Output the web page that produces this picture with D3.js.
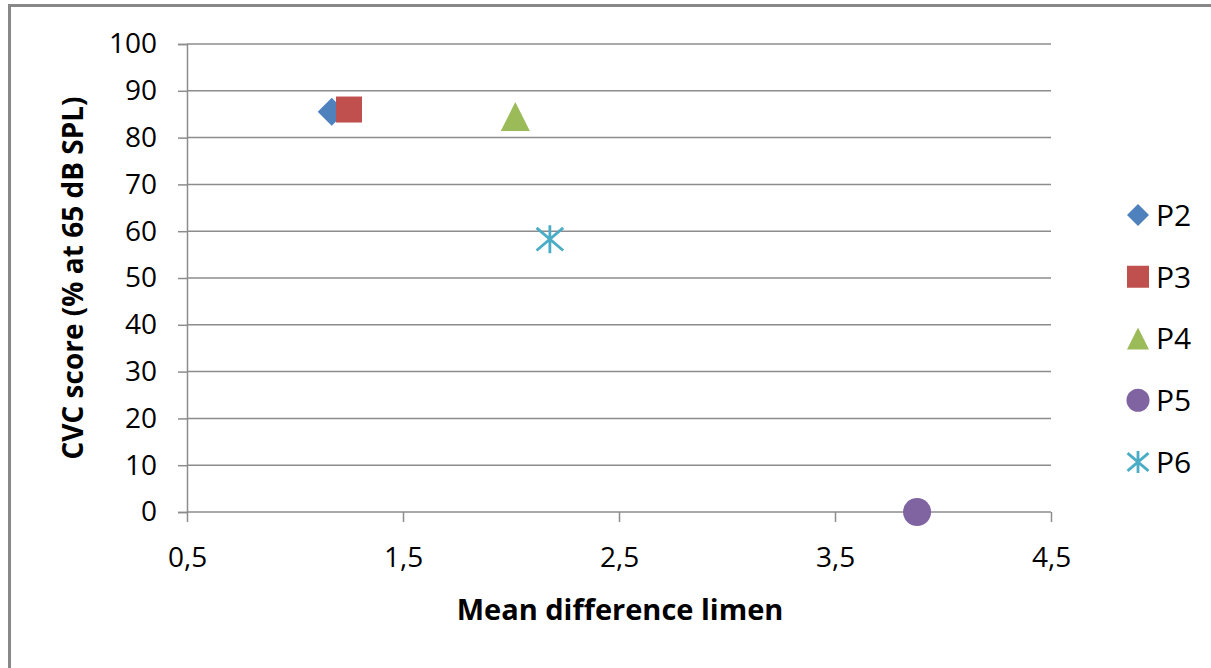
<!DOCTYPE html>
<html>
<head>
<meta charset="utf-8">
<script src="https://cdn.jsdelivr.net/npm/d3@7/dist/d3.min.js"></script>
<style>
  html, body { margin: 0; padding: 0; background: #fff; }
  svg { display: block; }
  text { font-family: "Open Sans", "Noto Sans", sans-serif; fill: #000; }
</style>
</head>
<body>
<svg id="chart" width="1211" height="668"></svg>
<script>
// ---- data ----
const seriesNames = ["P2", "P3", "P4", "P5", "P6"];
const xValues = [1.17, 1.25, 2.02, 3.88, 2.18];
const yValues = [85.5, 86, 84.5, 0, 58.3];
const seriesColors = ["#4F81BD", "#C0504D", "#9BBB59", "#8064A2", "#4BACC6"];
const seriesMarkers = ["diamond", "square", "triangle", "circle", "star"];
const xTicks = [0.5, 1.5, 2.5, 3.5, 4.5];
const xTickLabels = ["0,5", "1,5", "2,5", "3,5", "4,5"];
const yTicks = [0, 10, 20, 30, 40, 50, 60, 70, 80, 90, 100];
const xTitle = "Mean difference limen";
const yTitle = "CVC score (% at 65 dB SPL)";

(function () {
const svg = d3.select("#chart");
const W = 1211, H = 668;

// outer border (left & top visible)
svg.append("path")
  .attr("d", `M9.5,${H + 5} L9.5,5.5 L${W + 5},5.5`)
  .attr("fill", "none").attr("stroke", "#888").attr("stroke-width", 3);

const pLeft = 187, pRight = 1051, pTop = 44, pBottom = 512;
const x = d3.scaleLinear().domain([0.5, 4.5]).range([pLeft, pRight]);
const y = d3.scaleLinear().domain([0, 100]).range([pBottom, pTop]);

const gridColor = "#8c8c8c";

// horizontal gridlines
svg.append("g").selectAll("line").data(yTicks).join("line")
  .attr("x1", pLeft).attr("x2", pRight)
  .attr("y1", d => y(d)).attr("y2", d => y(d))
  .attr("stroke", gridColor).attr("stroke-width", 1.5);

// y axis
const yAxis = d3.axisLeft(y).tickValues(yTicks).tickSize(9).tickPadding(21).tickFormat(d3.format("d"));
const gy = svg.append("g").attr("transform", `translate(${pLeft},0)`).call(yAxis);
gy.select(".domain").attr("stroke", gridColor).attr("stroke-width", 1.5);
gy.selectAll(".tick line").attr("stroke", gridColor).attr("stroke-width", 1.5);
gy.selectAll(".tick text").attr("font-size", 28).attr("fill", "#111")
  .style("font-family", '"Open Sans", sans-serif');

// x axis
const xAxis = d3.axisBottom(x).tickValues(xTicks).tickSize(10).tickPadding(25)
  .tickFormat((d, i) => xTickLabels[i]);
const gx = svg.append("g").attr("transform", `translate(0,${pBottom})`).call(xAxis);
gx.select(".domain").remove();
gx.selectAll(".tick line").attr("stroke", gridColor).attr("stroke-width", 1.5);
gx.selectAll(".tick text").attr("font-size", 28).attr("fill", "#111")
  .style("font-family", '"Open Sans", sans-serif');

// axis titles
svg.append("text").attr("x", 620).attr("y", 620).attr("text-anchor", "middle")
  .attr("font-size", 29).attr("font-weight", "bold").text(xTitle);
svg.append("text").attr("transform", "translate(83,278) rotate(-90)").attr("text-anchor", "middle")
  .attr("font-size", 28).attr("font-weight", "bold").text(yTitle);

// marker path generator
function markerPath(type, s) {
  const h = s / 2;
  switch (type) {
    case "diamond": return `M0,${-h}L${h},0L0,${h}L${-h},0Z`;
    case "square": return `M${-h},${-h}H${h}V${h}H${-h}Z`;
    case "triangle": return `M0,${-h}L${h},${h}L${-h},${h}Z`;
    case "circle": return d3.symbol(d3.symbolCircle, Math.PI * h * h)();
    case "star": {
      const a = h * 0.95;
      return `M0,${-h}V${h}M${-a},${-a * 0.85}L${a},${a * 0.85}M${-a},${a * 0.85}L${a},${-a * 0.85}`;
    }
  }
}
function drawMarker(g, type, color, s) {
  if (type === "star") {
    g.append("path").attr("d", markerPath(type, s)).attr("fill", "none")
      .attr("stroke", color).attr("stroke-width", 2.8);
  } else {
    g.append("path").attr("d", markerPath(type, s)).attr("fill", color);
  }
}

// points
const sizes = { diamond: 28, square: 26, triangle: 29, circle: 28, star: 28 };
seriesNames.forEach((n, i) => {
  const g = svg.append("g").attr("transform", `translate(${x(xValues[i])},${y(yValues[i])})`);
  drawMarker(g, seriesMarkers[i], seriesColors[i], sizes[seriesMarkers[i]]);
});

// legend
const legY = d3.scalePoint().domain(seriesNames).range([215, 462]);
const ls = { diamond: 22, square: 22, triangle: 22, circle: 23, star: 22 };
seriesNames.forEach((n, i) => {
  const g = svg.append("g").attr("transform", `translate(1138,${legY(n)})`);
  drawMarker(g, seriesMarkers[i], seriesColors[i], ls[seriesMarkers[i]]);
  svg.append("text").attr("x", 1156).attr("y", legY(n)).attr("dy", "0.36em")
    .attr("font-size", 30).attr("fill", "#111").text(n);
});
})();
</script>
</body>
</html>
